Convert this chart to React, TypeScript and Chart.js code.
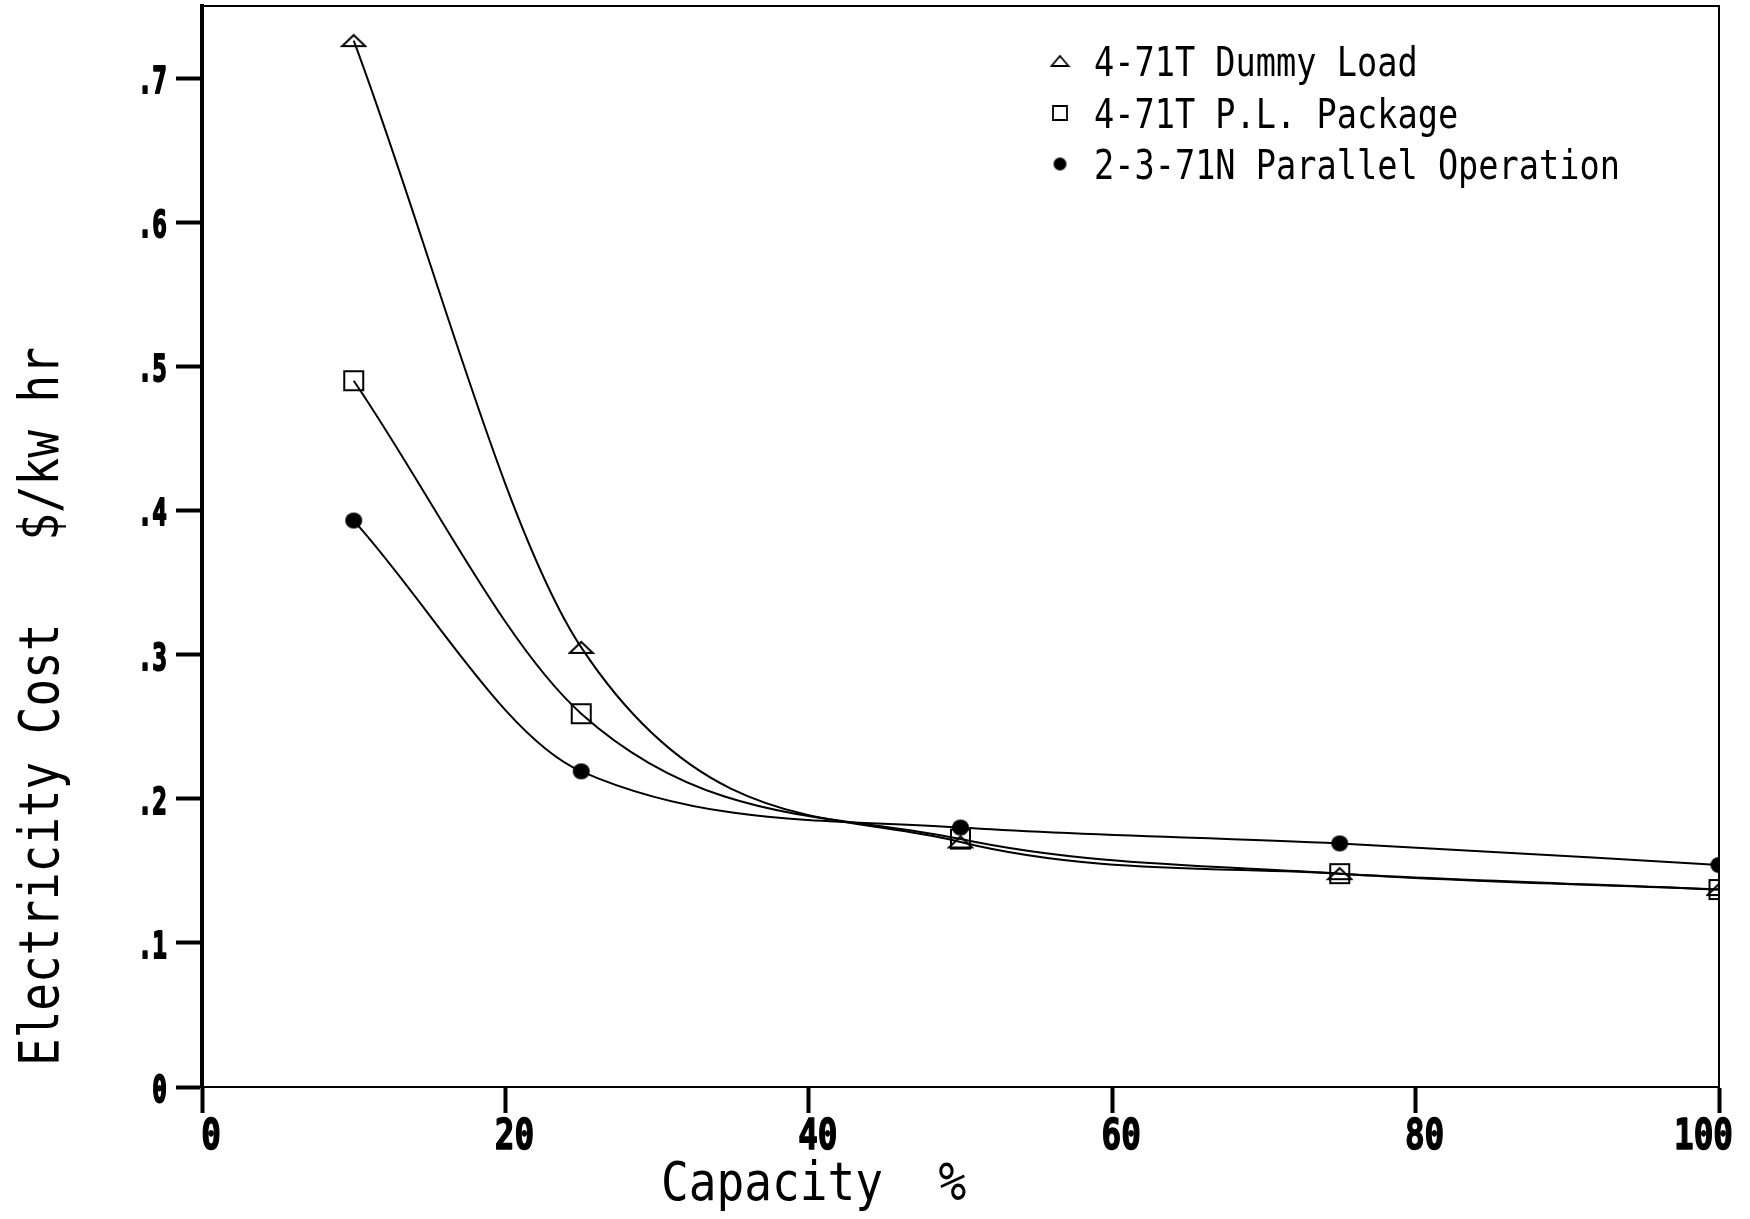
import React, { useEffect, useRef } from "react";
import { Chart, registerables } from "chart.js";

Chart.register(...registerables);

// ---- data ----
const capacity = [10, 25, 50, 75, 100];
const dummyLoad = [0.726, 0.305, 0.17, 0.148, 0.137];
const plPackage = [0.49, 0.259, 0.172, 0.148, 0.137];
const parallelOp = [0.393, 0.219, 0.18, 0.169, 0.154];

const seriesLabels = ["4-71T Dummy Load", "4-71T P.L. Package", "2-3-71N Parallel Operation"];
const xTickValues = [0, 20, 40, 60, 80, 100];
const xTickLabels = ["0", "20", "40", "60", "80", "100"];
const yTickValues = [0, 0.1, 0.2, 0.3, 0.4, 0.5, 0.6, 0.7];
const yTickLabels = ["0", ".1", ".2", ".3", ".4", ".5", ".6", ".7"];
const xTitle = "Capacity  %";
const yTitle = "Electricity Cost   $/kw hr";

const MONO = "'DejaVu Sans Mono', 'Liberation Mono', monospace";

function makeMarker(kind: string, w: number, h: number, lw: number): HTMLCanvasElement {
  const c = document.createElement("canvas");
  const pad = Math.ceil(lw);
  c.width = Math.round(w + pad * 2);
  c.height = Math.round(h + pad * 2);
  const ctx = c.getContext("2d")!;
  ctx.strokeStyle = "#000";
  ctx.fillStyle = "#000";
  ctx.lineWidth = lw;
  ctx.lineJoin = "miter";
  const ox = pad;
  const oy = pad;
  ctx.beginPath();
  if (kind === "triangle") {
    ctx.moveTo(ox + w / 2, oy);
    ctx.lineTo(ox + w, oy + h);
    ctx.lineTo(ox, oy + h);
    ctx.closePath();
    ctx.stroke();
  } else if (kind === "square") {
    ctx.rect(ox, oy, w, h);
    ctx.stroke();
  } else {
    ctx.ellipse(ox + w / 2, oy + h / 2, w / 2, h / 2, 0, 0, Math.PI * 2);
    ctx.fill();
  }
  return c;
}

function drawCondensed(
  ctx: CanvasRenderingContext2D,
  text: string,
  x: number,
  y: number,
  sx: number,
  align: "left" | "center" | "right",
  strokeW = 0
) {
  const w = ctx.measureText(text).width * sx;
  let left = x;
  if (align === "center") left = x - w / 2;
  if (align === "right") left = x - w;
  ctx.save();
  ctx.translate(left, y);
  ctx.scale(sx, 1);
  ctx.textAlign = "left";
  ctx.fillText(text, 0, 0);
  if (strokeW > 0) {
    ctx.lineWidth = strokeW;
    ctx.strokeStyle = "#000";
    ctx.lineJoin = "round";
    ctx.strokeText(text, 0, 0);
  }
  ctx.restore();
  return w;
}

export default function App() {
  const ref = useRef<HTMLCanvasElement | null>(null);

  useEffect(() => {
    const canvas = ref.current;
    if (!canvas) return;

    const triPt = makeMarker("triangle", 23, 11, 2);
    const sqPt = makeMarker("square", 19, 19, 2);
    const cirPt = makeMarker("circle", 17, 16, 1);
    const legendMarkers = [
      makeMarker("triangle", 17, 10, 1.8),
      makeMarker("square", 14, 14, 1.8),
      makeMarker("circle", 13, 13, 1),
    ];

    const series = [dummyLoad, plPackage, parallelOp];
    const styles = [triPt, sqPt, cirPt];

    const decor = {
      id: "decor",
      afterDraw(chart: any) {
        const { ctx, chartArea: a, width: cw } = chart;
        const xs = chart.scales.x;
        const ys = chart.scales.y;
        ctx.save();
        // frame top and right
        ctx.strokeStyle = "#000";
        ctx.lineWidth = 2;
        ctx.beginPath();
        ctx.moveTo(a.left, a.top);
        ctx.lineTo(a.right, a.top);
        ctx.lineTo(a.right, a.bottom);
        ctx.stroke();

        ctx.fillStyle = "#000";
        ctx.textBaseline = "alphabetic";

        // y tick labels (condensed bold)
        ctx.font = `bold 38px ${MONO}`;
        yTickValues.forEach((v, i) => {
          const py = ys.getPixelForValue(v);
          drawCondensed(ctx, yTickLabels[i], a.left - 35, py + 15, 0.64, "right", 2);
        });

        // x tick labels (condensed bold)
        ctx.font = `bold 43px ${MONO}`;
        xTickValues.forEach((v, i) => {
          const px = xs.getPixelForValue(v);
          const w = ctx.measureText(xTickLabels[i]).width * 0.76;
          let cx = px + 9;
          if (cx + w / 2 > cw - 17) cx = cw - 17 - w / 2;
          drawCondensed(ctx, xTickLabels[i], cx, a.bottom + 62, 0.76, "center", 1.5);
        });

        // legend (inside plot, top right)
        ctx.font = `40px ${MONO}`;
        const markerX = a.right - 659;
        const textX = a.right - 625;
        const rowY = [a.top + 55, a.top + 107, a.top + 158];
        seriesLabels.forEach((lab, i) => {
          const m = legendMarkers[i];
          ctx.drawImage(m, markerX - m.width / 2, rowY[i] - m.height / 2);
          drawCondensed(ctx, lab, textX, rowY[i] + 14.5, 0.84, "left");
        });

        // x axis title
        ctx.font = `53px ${MONO}`;
        drawCondensed(ctx, xTitle, 661, 1200, 0.87, "left");

        // y axis title
        ctx.save();
        ctx.font = `56px ${MONO}`;
        ctx.translate(58, 1066);
        ctx.rotate(-Math.PI / 2);
        drawCondensed(ctx, yTitle, 0, 0, 0.82, "left");
        ctx.restore();

        ctx.restore();
      },
    };

    const chart = new Chart(canvas, {
      type: "line",
      data: {
        datasets: series.map((vals, i) => ({
          label: seriesLabels[i],
          data: capacity.map((x, j) => ({ x, y: vals[j] })),
          borderColor: "#000",
          backgroundColor: "#000",
          borderWidth: 2,
          pointStyle: styles[i] as any,
          pointRadius: 10,
          cubicInterpolationMode: "monotone" as const,
          fill: false,
        })),
      },
      options: {
        animation: false,
        responsive: false,
        devicePixelRatio: 1,
        layout: { autoPadding: false, padding: { top: 6, right: 31, bottom: 0, left: 0 } },
        plugins: {
          legend: { display: false },
          tooltip: { enabled: false },
          title: { display: false },
        },
        scales: {
          x: {
            type: "linear",
            min: 0,
            max: 100,
            afterBuildTicks: (scale: any) => {
              scale.ticks = xTickValues.map((v) => ({ value: v }));
            },
            afterFit: (scale: any) => {
              scale.height = 132;
              scale.paddingLeft = 0;
              scale.paddingRight = 0;
            },
            ticks: { display: false, autoSkip: false },
            grid: {
              drawOnChartArea: false,
              drawTicks: true,
              tickLength: 26,
              tickWidth: 4,
              tickColor: "#000",
              color: "#000",
            },
            border: { display: true, color: "#000", width: 2 },
          },
          y: {
            type: "linear",
            min: 0,
            max: 0.75,
            afterBuildTicks: (scale: any) => {
              scale.ticks = yTickValues.map((v) => ({ value: v }));
            },
            afterFit: (scale: any) => {
              scale.width = 202;
              scale.paddingTop = 0;
              scale.paddingBottom = 0;
            },
            ticks: { display: false, autoSkip: false },
            grid: {
              drawOnChartArea: false,
              drawTicks: true,
              tickLength: 26,
              tickWidth: 4,
              tickColor: "#000",
              color: "#000",
            },
            border: { display: true, color: "#000", width: 4 },
          },
        },
      },
      plugins: [decor],
    });

    return () => chart.destroy();
  }, []);

  return (
    <div style={{ position: "absolute", left: 0, top: 0, width: 1750, height: 1219, background: "#fff" }}>
      <canvas ref={ref} width={1750} height={1219} style={{ display: "block", width: 1750, height: 1219 }} />
    </div>
  );
}
